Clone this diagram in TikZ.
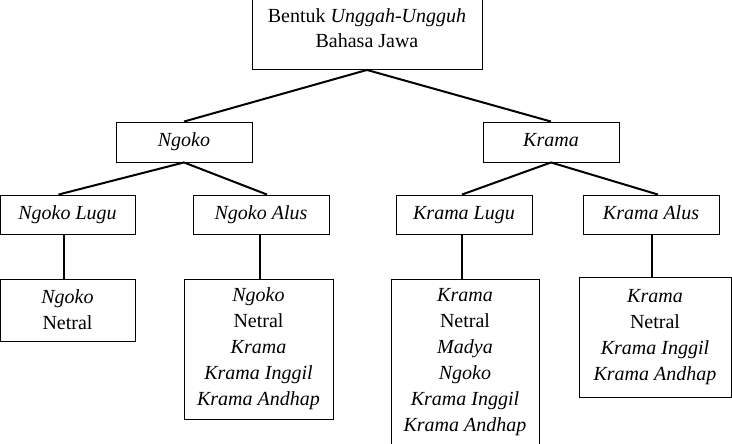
\documentclass[tikz,border=0pt]{standalone}
\usepackage{fontspec}
\setmainfont{Liberation Serif}
\begin{document}
\begin{tikzpicture}[x=1pt,y=-1pt,
  box/.style={draw=black,line width=0.9pt,rectangle,inner sep=0pt,align=center,
    font=\fontsize{20}{26}\selectfont},
  single/.style={box,text height=13.5pt,text depth=4.5pt},
  conn/.style={line width=2pt}]
\useasboundingbox (0,0) rectangle (732,444);
\node[box,minimum width=230pt,minimum height=71pt,text depth=11pt] (top) at (367,34) {Bentuk \textit{Unggah-Ungguh}\\[-1pt]Bahasa Jawa};
\node[single,minimum width=136pt,minimum height=40pt] (ngoko) at (184,142) {\textit{Ngoko}};
\node[single,minimum width=136pt,minimum height=40pt] (krama) at (551,142) {\textit{Krama}};
\node[single,minimum width=135pt,minimum height=39pt] (nlugu) at (67.5,214.5) {\textit{Ngoko Lugu}};
\node[single,minimum width=136pt,minimum height=39pt] (nalus) at (261,214.5) {\textit{Ngoko Alus}};
\node[single,minimum width=136pt,minimum height=39pt] (klugu) at (464,214.5) {\textit{Krama Lugu}};
\node[single,minimum width=136pt,minimum height=39pt] (kalus) at (651,214.5) {\textit{Krama Alus}};
\node[box,minimum width=135pt,minimum height=62pt] (b1) at (67.5,310) {\textit{Ngoko}\\Netral};
\node[box,minimum width=149pt,minimum height=140pt] (b2) at (258.5,349) {\textit{Ngoko}\\Netral\\\textit{Krama}\\\textit{Krama Inggil}\\\textit{Krama Andhap}};
\node[box,minimum width=148pt,minimum height=166pt] (b3) at (465,362) {\textit{Krama}\\Netral\\\textit{Madya}\\\textit{Ngoko}\\\textit{Krama Inggil}\\\textit{Krama Andhap}};
\node[box,minimum width=152pt,minimum height=120pt] (b4) at (655,337) {\textit{Krama}\\Netral\\\textit{Krama Inggil}\\\textit{Krama Andhap}};
\draw[conn] (top.south) -- (ngoko.north);
\draw[conn] (top.south) -- (krama.north);
\draw[conn] (ngoko.south) -- ([xshift=-9pt]nlugu.north);
\draw[conn] (ngoko.south) -- ([xshift=6pt]nalus.north);
\draw[conn] (krama.south) -- ([xshift=-2pt]klugu.north);
\draw[conn] (krama.south) -- ([xshift=7pt]kalus.north);
\draw[conn] ([xshift=-3.5pt]nlugu.south) -- ([xshift=-3.5pt]nlugu.south |- b1.north);
\draw[conn] ([xshift=-1pt]nalus.south) -- ([xshift=-1pt]nalus.south |- b2.north);
\draw[conn] ([xshift=-2pt]klugu.south) -- ([xshift=-2pt]klugu.south |- b3.north);
\draw[conn] ([xshift=1pt]kalus.south) -- ([xshift=1pt]kalus.south |- b4.north);
\end{tikzpicture}
\end{document}
